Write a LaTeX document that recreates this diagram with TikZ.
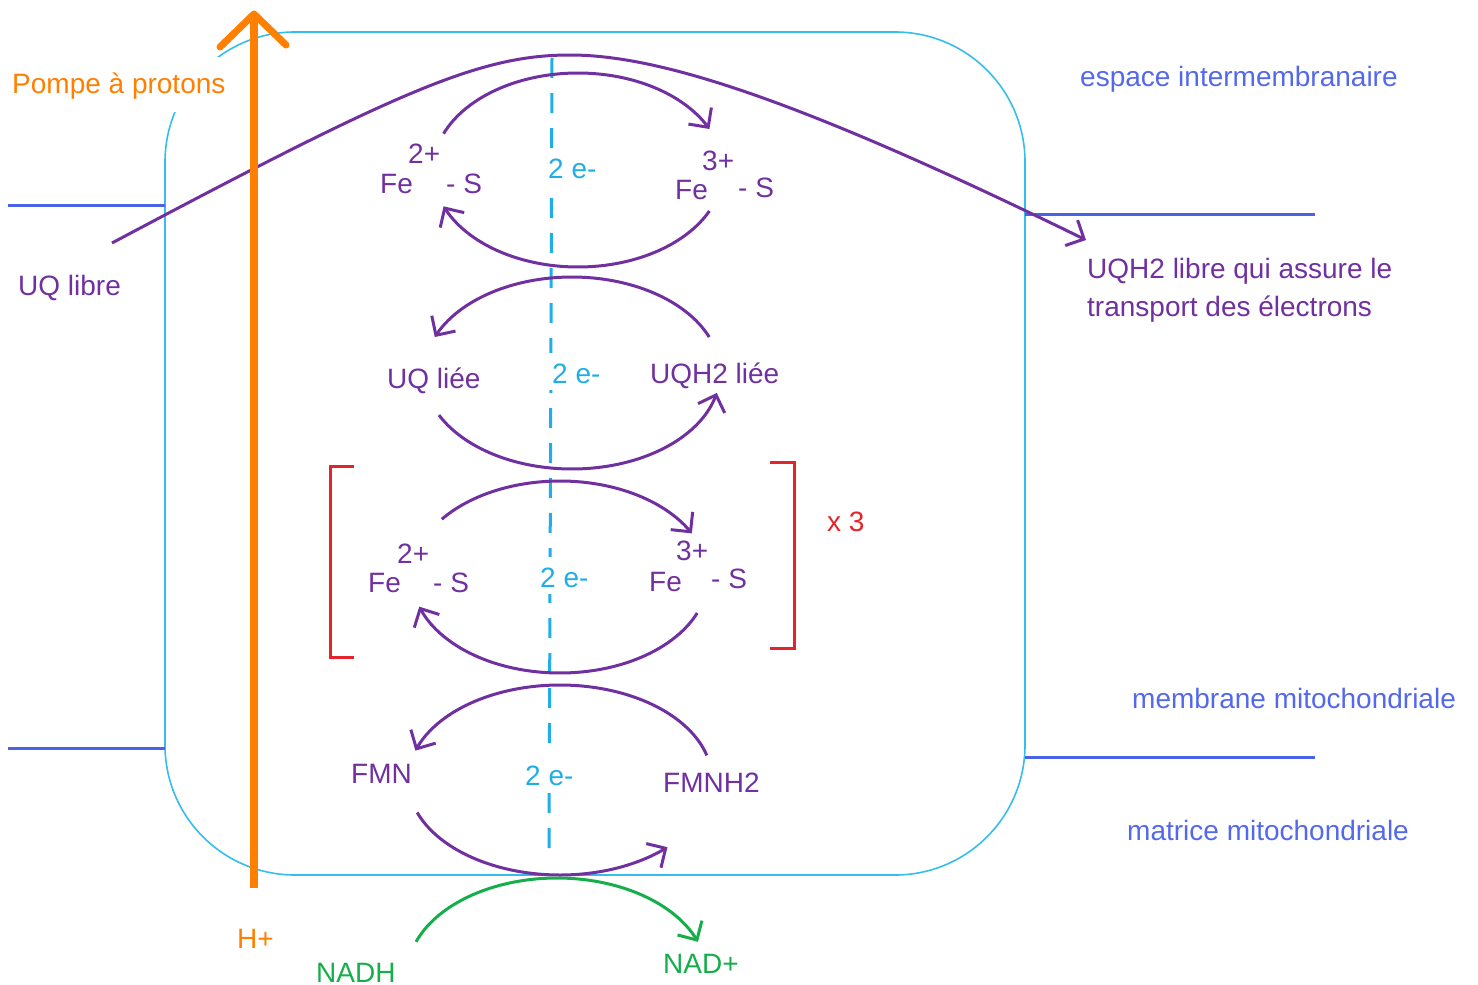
\documentclass[tikz,border=0pt]{standalone}
\usepackage{fontspec}
\setmainfont{Liberation Sans}
\usetikzlibrary{arrows.meta}
\definecolor{purp}{HTML}{7030A0}
\definecolor{boxcy}{HTML}{35BDEE}
\definecolor{ecy}{HTML}{1FAEE8}
\definecolor{mblue}{HTML}{4A63E6}
\definecolor{lblue}{HTML}{5468EC}
\definecolor{orng}{HTML}{FF7F00}
\definecolor{grn}{HTML}{16AE4A}
\definecolor{rd}{HTML}{E4242B}
\begin{document}
\begin{tikzpicture}[x=1pt,y=-1pt,
  >={Straight Barb[angle=90:20pt]},
  lbl/.style={inner sep=0pt, font=\fontsize{28}{32}\selectfont, anchor=base west},
  ptxt/.style={lbl, text=purp},
  btxt/.style={lbl, text=lblue},
  etxt/.style={lbl, text=ecy, fill=white, inner xsep=3pt, inner ysep=0pt, text height=30pt, text depth=7pt},
  arcline/.style={purp, line width=3pt},
  membr/.style={mblue, line width=3pt},
  brk/.style={rd, line width=3pt}]
\useasboundingbox (0,0) rectangle (1478,985);
% compartment
\draw[boxcy, line width=1.6pt, rounded corners=130pt] (165,32) rectangle (1025,875);
% membranes
\coordinate (ml1) at (8,205);   \coordinate (ml1e) at (165,205);
\coordinate (ml2) at (8,748);   \coordinate (ml2e) at (165,748);
\coordinate (mr1) at (1025,214);\coordinate (mr1e) at (1315,214);
\coordinate (mr2) at (1025,757);\coordinate (mr2e) at (1315,757);
\draw[membr] (ml1) -- (ml1e);
\draw[membr] (ml2) -- (ml2e);
\draw[membr] (mr1) -- (mr1e);
\draw[membr] (mr2) -- (mr2e);
% electron path
\coordinate (etop) at (552,58);
\coordinate (ebot) at (549,858);
\draw[ecy, line width=3pt, dash pattern=on 20pt off 15pt] (etop) -- (ebot);
\node[etxt] (e1) at (545,178) {2 e-};
\node[etxt] (e2) at (549,383) {2 e-};
\node[etxt] (e3) at (537,587) {2 e-};
\node[etxt] (e4) at (522,785) {2 e-};
% group 1 : Fe-S
\draw[arcline, ->] plot[domain=202:335, samples=60, smooth] ({578+145*cos(\x)},{170+97*sin(\x)});
\draw[arcline, ->] plot[domain=25:158, samples=60, smooth] ({578+145*cos(\x)},{170+97*sin(\x)});
\node[ptxt] (fe1) at (380,193) {Fe};
\node[ptxt] (c1) at (408,163) {2+};
\node[ptxt] (s1) at (446,193) {- S};
\node[ptxt] (fe2) at (675,199) {Fe};
\node[ptxt] (c2) at (702,170) {3+};
\node[ptxt] (s2) at (738,197) {- S};
% group 2 : UQ
\draw[arcline, <-] plot[domain=202:338, samples=60, smooth] ({572+148*cos(\x)},{373+96*sin(\x)});
\draw[arcline, <-] plot[domain=12:154, samples=60, smooth] ({572+148*cos(\x)},{373+96*sin(\x)});
\node[ptxt] (uq) at (387,388) {UQ liée};
\node[ptxt] (uqh) at (650,383) {UQH2 liée};
% group 3 : Fe-S x3
\draw[arcline, ->] plot[domain=217:333, samples=60, smooth] ({560+148*cos(\x)},{577+96*sin(\x)});
\draw[arcline, ->] plot[domain=22:162, samples=60, smooth] ({560+148*cos(\x)},{577+96*sin(\x)});
\node[ptxt] (fe3) at (368,592) {Fe};
\node[ptxt] (c3) at (397,563) {2+};
\node[ptxt] (s3) at (433,592) {- S};
\node[ptxt] (fe4) at (649,591) {Fe};
\node[ptxt] (c4) at (676,560) {3+};
\node[ptxt] (s4) at (711,588) {- S};
\draw[brk] (354,466) -- (330,466) -- (330,657) -- (354,657);
\draw[brk] (770,462) -- (794,462) -- (794,648) -- (770,648);
\node[lbl, text=rd] (x3) at (827,531) {x 3};
% group 4 : FMN
\draw[arcline, <-] plot[domain=198:345, samples=60, smooth] ({560+152*cos(\x)},{780+95*sin(\x)});
\draw[arcline, <-] plot[domain=45:160, samples=60, smooth] ({560+152*cos(\x)},{780+95*sin(\x)});
\node[ptxt] (fmn) at (351,783) {FMN};
\node[ptxt] (fmnh) at (663,792) {FMNH2};
% NADH
\draw[grn, line width=3pt, ->] plot[domain=200:340, samples=60, smooth] ({557+150*cos(\x)},{975+97*sin(\x)});
\node[lbl, text=grn] (nadh) at (316,982) {NADH};
\node[lbl, text=grn] (nad) at (663,973) {NAD+};
% UQ libre -> UQH2 libre
\coordinate (uqs) at (112,243);
\coordinate (uqe) at (1086,240);
\draw[arcline, ->] (uqs) .. controls (400,90) and (480,55) .. (570,55) .. controls (660,55) and (800,100) .. (uqe);
\node[ptxt] (uql) at (18,295) {UQ libre};
\node[ptxt] (uqh1) at (1087,278) {UQH2 libre qui assure le};
\node[ptxt] (uqh2) at (1087,316) {transport des électrons};
% side labels
\node[btxt] (esp) at (1080,86) {espace intermembranaire};
\node[btxt] (mem) at (1132,708) {membrane mitochondriale};
\node[btxt] (mat) at (1127,840) {matrice mitochondriale};
% proton pump
\node[lbl, text=orng, fill=white, inner xsep=2pt, inner ysep=0pt, text height=36pt, text depth=19pt] (pompe) at (10,93) {Pompe à protons};
\coordinate (hb) at (254,888);
\coordinate (ht) at (254,16);
\coordinate (hl) at (220,47);
\coordinate (hr) at (286,45);
\draw[orng, line width=8pt] (hb) -- (ht);
\draw[orng, line width=7pt, line cap=round, line join=round] (hl) -- (254,14) -- (hr);
\node[lbl, text=orng] (hp) at (237,948) {H+};
\end{tikzpicture}
\end{document}
